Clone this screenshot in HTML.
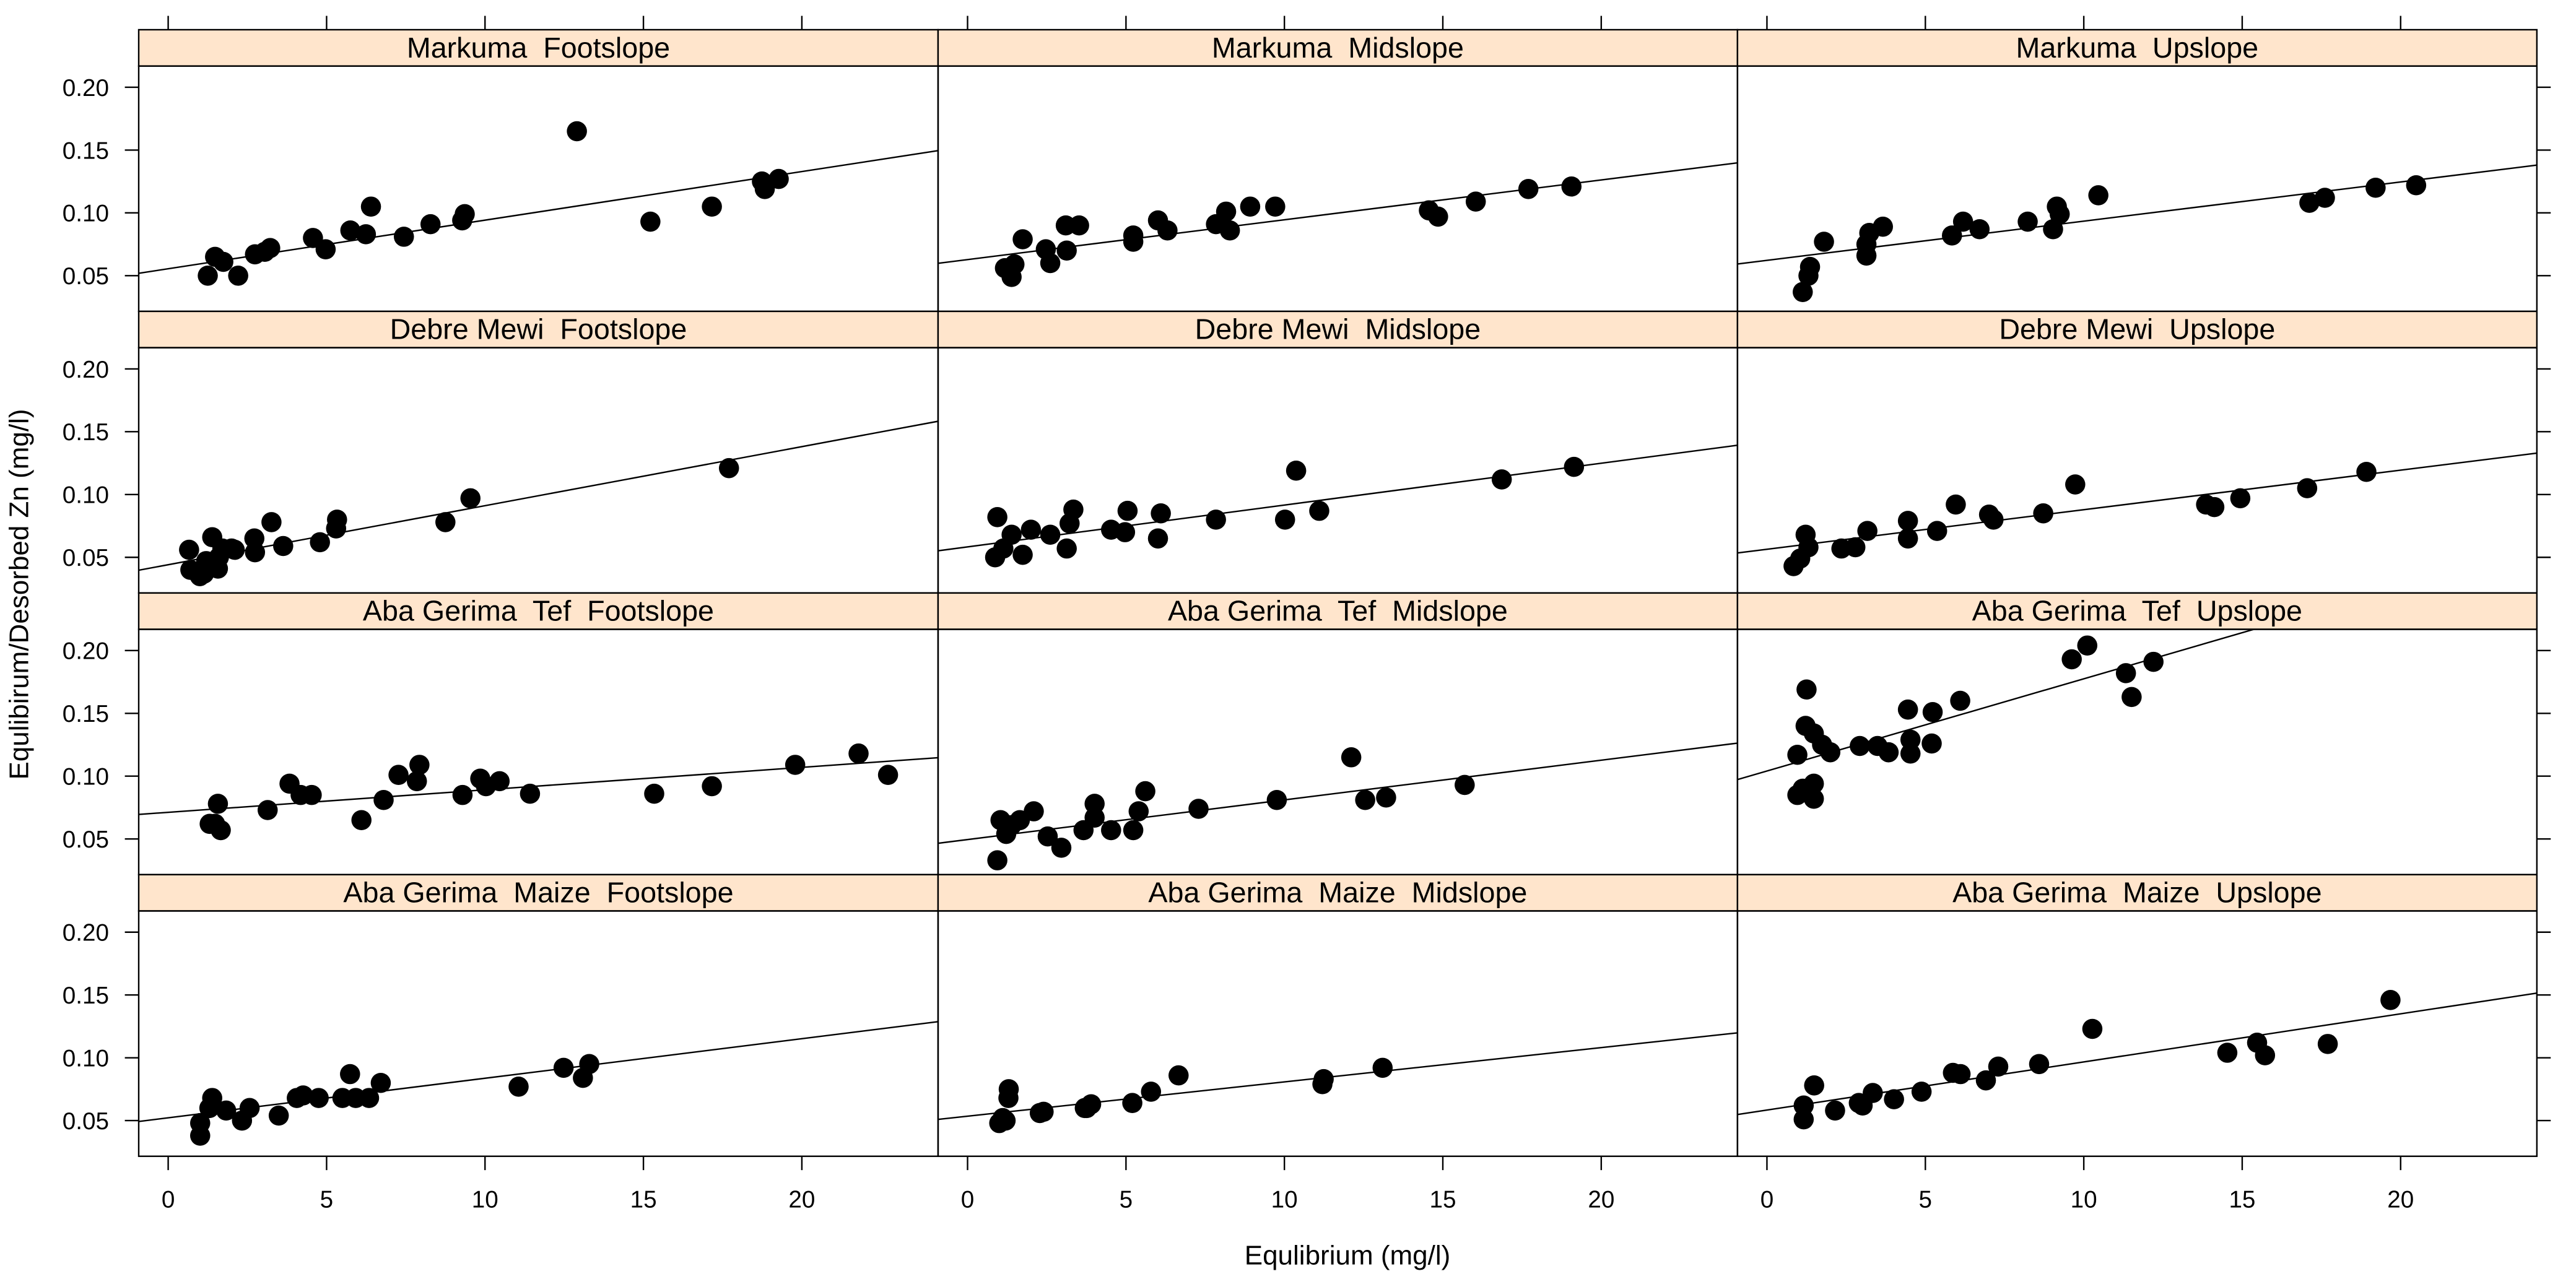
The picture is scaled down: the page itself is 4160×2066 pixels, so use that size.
<!DOCTYPE html>
<html>
<head>
<meta charset="utf-8">
<style>
html,body{margin:0;padding:0;background:#fff;}
svg{display:block;}
text{font-family:"Liberation Sans",Arial,sans-serif;fill:#000;white-space:pre;}
</style>
</head>
<body>
<svg id="chart" xmlns="http://www.w3.org/2000/svg" width="4160" height="2066" viewBox="0 0 1560 774.75">
  <rect x="0" y="0" width="1560" height="774.75" fill="#fff"/>
  <text x="816" y="766" font-size="16.5" text-anchor="middle">Equlibrium (mg/l)</text>
  <text transform="translate(17,360) rotate(-90)" font-size="16.5" text-anchor="middle">Equlibirum/Desorbed Zn (mg/l)</text>
  <g id="panels"></g>
</svg>
<script>
// ---- data ----
const stripTitles = ["Markuma  Footslope","Markuma  Midslope","Markuma  Upslope",
  "Debre Mewi  Footslope","Debre Mewi  Midslope","Debre Mewi  Upslope",
  "Aba Gerima  Tef  Footslope","Aba Gerima  Tef  Midslope","Aba Gerima  Tef  Upslope",
  "Aba Gerima  Maize  Footslope","Aba Gerima  Maize  Midslope","Aba Gerima  Maize  Upslope"];
const xTicks = [0,5,10,15,20];
const yTicks = [0.05,0.10,0.15,0.20];
const yTickLabels = ["0.05","0.10","0.15","0.20"];

const mkFootX = [1.25,1.48,1.74,2.21,2.74,3.22,3.05,4.57,4.97,5.75,6.24,6.40,7.44,8.28,9.28,9.36,12.9,15.22,17.16,18.74,18.83,19.27];
const mkFootY = [0.050,0.065,0.061,0.050,0.067,0.072,0.069,0.080,0.071,0.086,0.083,0.105,0.081,0.091,0.094,0.099,0.165,0.093,0.105,0.125,0.119,0.127];
const mkMidX = [1.18,1.39,1.48,1.74,2.47,2.61,3.13,3.10,3.52,5.23,5.23,6.01,6.31,7.84,8.16,8.28,8.92,9.71,14.56,14.85,16.04,17.70,19.06];
const mkMidY = [0.056,0.049,0.059,0.079,0.071,0.060,0.070,0.090,0.090,0.082,0.077,0.094,0.086,0.091,0.101,0.086,0.105,0.105,0.102,0.097,0.109,0.119,0.121];
const mkUpX = [1.13,1.31,1.36,1.80,3.14,3.14,3.23,3.66,5.84,6.19,6.71,8.23,9.03,9.15,9.24,10.46,17.12,17.61,19.21,20.49];
const mkUpY = [0.037,0.050,0.057,0.077,0.066,0.075,0.084,0.089,0.082,0.093,0.087,0.093,0.087,0.105,0.099,0.114,0.108,0.112,0.120,0.122];

const dmFootX = [0.66,0.70,1.13,1.39,1.57,1.71,2.00,2.74,2.72,3.26,3.63,4.79,5.30,5.33,8.75,9.54,17.70,1.0,1.6,2.1,1.2];
const dmFootY = [0.056,0.040,0.037,0.066,0.041,0.057,0.057,0.054,0.065,0.078,0.059,0.062,0.073,0.080,0.078,0.097,0.121,0.035,0.050,0.056,0.047];
const dmMidX = [0.94,0.87,1.13,1.39,1.74,2.00,2.61,3.13,3.34,3.22,4.53,4.97,5.05,6.10,6.01,7.84,10.02,10.37,11.10,16.86,19.14];
const dmMidY = [0.082,0.050,0.057,0.068,0.052,0.072,0.068,0.057,0.088,0.077,0.072,0.070,0.087,0.085,0.065,0.080,0.080,0.119,0.087,0.112,0.122];
const dmUpX = [0.84,1.05,1.22,1.31,2.35,2.79,3.17,4.45,4.45,5.37,5.96,7.01,7.15,8.72,9.73,13.86,14.12,14.94,17.05,18.92];
const dmUpY = [0.043,0.049,0.068,0.058,0.057,0.058,0.071,0.079,0.065,0.071,0.092,0.084,0.080,0.085,0.108,0.092,0.090,0.097,0.105,0.118];

const tefFootX = [1.57,1.48,1.66,1.31,3.14,3.83,4.18,4.53,6.10,6.80,7.27,7.93,7.85,9.29,9.85,10.03,10.46,11.42,15.34,17.16,19.79,21.79,22.72];
const tefFootY = [0.078,0.062,0.057,0.062,0.073,0.094,0.085,0.085,0.065,0.081,0.101,0.109,0.096,0.085,0.098,0.092,0.096,0.086,0.086,0.092,0.109,0.118,0.101];
const tefMidX = [0.94,1.04,1.22,1.39,1.65,2.09,2.53,2.96,3.66,4.01,4.01,4.53,5.23,5.40,5.61,7.29,9.76,12.11,12.55,13.21,15.69];
const tefMidY = [0.033,0.065,0.054,0.061,0.065,0.072,0.052,0.043,0.057,0.078,0.067,0.057,0.057,0.072,0.088,0.074,0.081,0.115,0.081,0.083,0.093];
const tefUpX = [0.96,1.25,1.22,1.48,1.74,2.00,0.96,1.13,1.48,1.48,2.93,3.49,3.84,4.45,4.53,4.53,5.23,5.20,6.10,9.62,10.11,11.33,11.51,12.20];
const tefUpY = [0.117,0.169,0.140,0.134,0.125,0.119,0.085,0.090,0.094,0.082,0.124,0.124,0.119,0.153,0.129,0.118,0.151,0.126,0.160,0.193,0.204,0.182,0.163,0.191];

const mzFootX = [1.01,1.01,1.39,1.83,2.33,2.57,3.49,4.06,4.26,4.75,5.50,5.74,5.92,6.34,6.71,11.06,12.48,13.09,13.29,1.3];
const mzFootY = [0.048,0.038,0.068,0.058,0.050,0.060,0.054,0.068,0.070,0.068,0.068,0.087,0.068,0.068,0.080,0.077,0.092,0.084,0.095,0.060];
const mzMidX = [1.11,1.29,2.28,3.76,5.20,5.79,6.66,11.24,13.1,11.2,1.0,1.3,3.9,2.4,3.7,1.2];
const mzMidY = [0.052,0.068,0.056,0.060,0.064,0.073,0.086,0.083,0.092,0.079,0.048,0.075,0.063,0.057,0.060,0.050];
const mzUpX = [1.16,1.16,1.49,2.15,2.90,3.02,3.34,4.01,4.88,5.87,6.11,6.91,7.30,8.59,10.27,14.53,15.47,15.72,17.70,19.68];
const mzUpY = [0.062,0.051,0.078,0.058,0.064,0.062,0.072,0.067,0.073,0.088,0.087,0.082,0.093,0.095,0.123,0.104,0.112,0.102,0.111,0.146];

const fitIntercepts = [0.0555,0.0628,0.0622, 0.0441,0.0583,0.0564, 0.0712,0.0495,0.1041, 0.0522,0.0535,0.0584];
const fitSlopes =     [0.00387,0.00317,0.00312, 0.0047,0.00333,0.00315, 0.00179,0.00316,0.00734, 0.00315,0.00273,0.00383];

const seriesX = [mkFootX,mkMidX,mkUpX,dmFootX,dmMidX,dmUpX,tefFootX,tefMidX,tefUpX,mzFootX,mzMidX,mzUpX];
const seriesY = [mkFootY,mkMidY,mkUpY,dmFootY,dmMidY,dmUpY,tefFootY,tefMidY,tefUpY,mzFootY,mzMidY,mzUpY];

// ---- layout ----
const NS = "http://www.w3.org/2000/svg";
const L = 84, colW = 484.1, T0 = 18, rowH = 170.6, stripH = 22, panelH = 148.6;
const xMin = -0.93, xMax = 24.3, yMin = 0.0216, yMax = 0.2169;
const TICK = 8.4, LW = 0.9;
function xScale(col, v){ return L + col*colW + (v - xMin)/(xMax - xMin)*colW; }
function yScale(row, v){ const top = T0 + row*rowH + stripH; return top + (yMax - v)/(yMax - yMin)*panelH; }
function mk(tag, attrs){ const e = document.createElementNS(NS, tag); for (const k in attrs) e.setAttribute(k, attrs[k]); return e; }

const root = document.getElementById("panels");
const defs = mk("defs", {});
root.appendChild(defs);

for (let i = 0; i < 12; i++) {
  const row = Math.floor(i/3), col = i % 3;
  const x0 = L + col*colW, sy = T0 + row*rowH, py = sy + stripH;
  const g = mk("g", {});
  
  
  root.appendChild(g);

  const clip = mk("clipPath", {id: "clip" + i});
  clip.appendChild(mk("rect", {x: x0, y: py, width: colW, height: panelH}));
  defs.appendChild(clip);

  const strip = mk("rect", {x: x0, y: sy, width: colW, height: stripH, fill: "#ffe5cc", stroke: "#000", "stroke-width": LW});
  
  
  g.appendChild(strip);
  const st = mk("text", {x: x0 + colW/2, y: sy + 16.8, "font-size": 17.5, "text-anchor": "middle"});
  st.textContent = stripTitles[i];
  
  
  g.appendChild(st);

  const box = mk("rect", {x: x0, y: py, width: colW, height: panelH, fill: "none", stroke: "#000", "stroke-width": LW});
  
  
  g.appendChild(box);

  // regression line
  const a = fitIntercepts[i], b = fitSlopes[i];
  const ln = mk("line", {x1: xScale(col, xMin), y1: yScale(row, a + b*xMin), x2: xScale(col, xMax), y2: yScale(row, a + b*xMax),
    stroke: "#000", "stroke-width": 0.9, "clip-path": "url(#clip" + i + ")"});
  
  
  g.appendChild(ln);

  // points
  const xs = seriesX[i], ys = seriesY[i];
  for (let k = 0; k < xs.length; k++) {
    const c = mk("circle", {cx: xScale(col, xs[k]), cy: yScale(row, ys[k]), r: 6.1, fill: "#000"});
    
    
    g.appendChild(c);
  }

  // y ticks (left on col 0, right on col 2)
  if (col === 0 || col === 2) {
    for (let k = 0; k < yTicks.length; k++) {
      const yy = yScale(row, yTicks[k]);
      const tx = col === 0 ? x0 : x0 + colW;
      const t = mk("line", {x1: tx, y1: yy, x2: col === 0 ? tx - TICK : tx + TICK, y2: yy, stroke: "#000", "stroke-width": LW});
      
      
      g.appendChild(t);
      if (col === 0) {
        const lb = mk("text", {x: x0 - 18, y: yy + 5.2, "font-size": 14.5, "text-anchor": "end"});
        lb.textContent = yTickLabels[k];
        
        
        g.appendChild(lb);
      }
    }
  }
  // x ticks top (row 0) and bottom (row 3)
  for (let k = 0; k < xTicks.length; k++) {
    const xx = xScale(col, xTicks[k]);
    if (row === 0) {
      const t = mk("line", {x1: xx, y1: sy, x2: xx, y2: sy - TICK, stroke: "#000", "stroke-width": LW});
      
      
      g.appendChild(t);
    }
    if (row === 3) {
      const by = py + panelH;
      const t = mk("line", {x1: xx, y1: by, x2: xx, y2: by + TICK, stroke: "#000", "stroke-width": LW});
      
      
      g.appendChild(t);
      const lb = mk("text", {x: xx, y: by + 31, "font-size": 14.5, "text-anchor": "middle"});
      lb.textContent = String(xTicks[k]);
      
      
      g.appendChild(lb);
    }
  }
}
</script>
</body>
</html>
